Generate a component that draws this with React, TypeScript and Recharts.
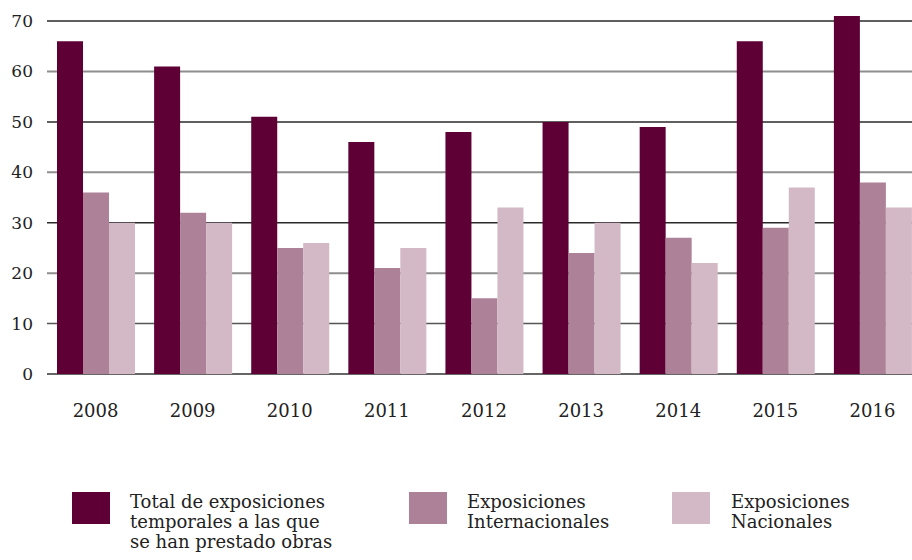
import React from 'react';
import { BarChart, Bar, XAxis, YAxis, CartesianGrid } from 'recharts';

const years = ['2008', '2009', '2010', '2011', '2012', '2013', '2014', '2015', '2016'];
const totalExpos = [66, 61, 51, 46, 48, 50, 49, 66, 71];
const internacionales = [36, 32, 25, 21, 15, 24, 27, 29, 38];
const nacionales = [30, 30, 26, 25, 33, 30, 22, 37, 33];
const yTicks = [0, 10, 20, 30, 40, 50, 60, 70];

const series = [
  { key: 'total', color: '#5e0036', label: ['Total de exposiciones', 'temporales a las que', 'se han prestado obras'], lx: 72, tx: 130 },
  { key: 'inter', color: '#ad8298', label: ['Exposiciones', 'Internacionales'], lx: 409, tx: 467 },
  { key: 'nac', color: '#d3b8c5', label: ['Exposiciones', 'Nacionales'], lx: 672, tx: 731 },
];

const data = years.map((year, i) => ({
  year,
  total: totalExpos[i],
  inter: internacionales[i],
  nac: nacionales[i],
}));

const FONT = "'DejaVu Serif', serif";

const XTick = ({ x, y, payload }: any) => (
  <text x={x} y={y + 41} textAnchor="middle" fill="#222" fontSize={18} style={{ fontFamily: FONT }}>
    {payload.value}
  </text>
);

const YTick = ({ y, payload }: any) => (
  <text x={33} y={y + 6} textAnchor="end" fill="#222" fontSize={17} style={{ fontFamily: FONT }}>
    {payload.value}
  </text>
);

export default function App() {
  return (
    <div style={{ position: 'absolute', left: 0, top: 0, width: 912, height: 560, background: '#fff', fontFamily: FONT, overflow: 'hidden' }}>
      <BarChart
        width={921}
        height={430}
        data={data}
        margin={{ top: 16, right: 0, left: 0, bottom: 0 }}
        barGap={0}
        barSize={26}
        style={{ fontFamily: FONT }}
      >
        <CartesianGrid vertical={false} horizontalValues={[70, 50, 30]} stroke="#2a2a2a" strokeWidth={1.5} />
        <CartesianGrid vertical={false} horizontalValues={[60, 40, 20]} stroke="#8e8e8e" strokeWidth={2} />
        <CartesianGrid vertical={false} horizontalValues={[10]} stroke="#555" strokeWidth={1.5} />
        <CartesianGrid vertical={false} horizontalValues={[0]} stroke="#333" strokeWidth={1.5} />
        <XAxis dataKey="year" height={56} tickLine={false} axisLine={false} tickSize={0} interval={0} tick={<XTick />} />
        <YAxis width={47} domain={[0, 71]} ticks={yTicks} tickLine={false} axisLine={false} tickSize={0} tick={<YTick />} />
        {series.map((s) => (
          <Bar key={s.key} dataKey={s.key} fill={s.color} isAnimationActive={false} />
        ))}
      </BarChart>
      {series.map((s) => (
        <React.Fragment key={s.key}>
          <div style={{ position: 'absolute', left: s.lx, top: 492, width: 38, height: 32, background: s.color }} />
          <div style={{ position: 'absolute', left: s.tx, top: 492, fontSize: 18, lineHeight: '20px', color: '#222', fontFamily: FONT }}>
            {s.label.map((line) => (
              <div key={line}>{line}</div>
            ))}
          </div>
        </React.Fragment>
      ))}
    </div>
  );
}
